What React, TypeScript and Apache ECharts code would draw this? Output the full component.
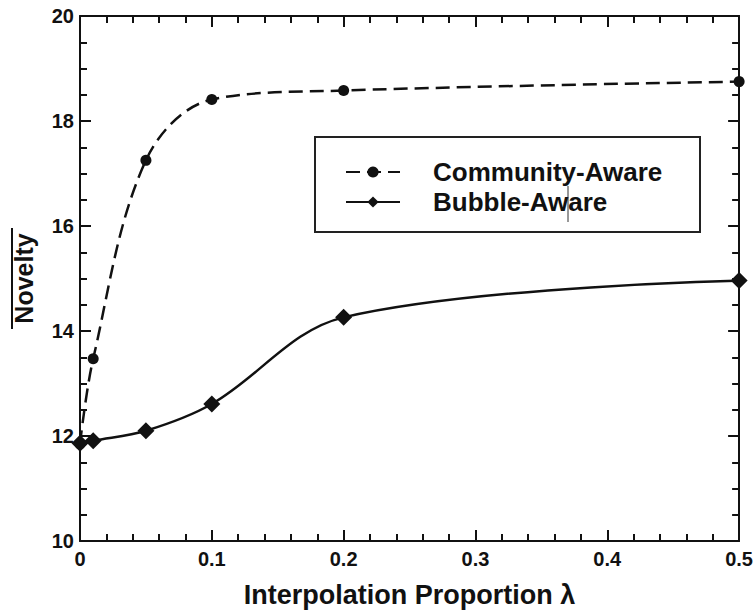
import React, { useEffect, useRef } from "react";
import * as echarts from "echarts";

// Interpolation proportion λ on the x axis
const lambdas = [0, 0.01, 0.05, 0.1, 0.2, 0.5];
// Mean novelty for each strategy
const communityAware = [11.85, 13.47, 17.25, 18.41, 18.58, 18.75];
const bubbleAware = [11.86, 11.91, 12.1, 12.61, 14.26, 14.96];
const seriesNames = ["Community-Aware", "Bubble-Aware"];

const FONT = "Liberation Sans, Arial, sans-serif";

export default function App() {
  const ref = useRef<HTMLDivElement>(null);

  useEffect(() => {
    if (!ref.current) return;
    const chart = echarts.init(ref.current, undefined, { renderer: "svg" });

    const pairs = (ys: number[]) => lambdas.map((x, i) => [x, ys[i]]);
    const axisLine = { show: true, onZero: false, lineStyle: { color: "#111", width: 2 } };
    const tick = { show: true, inside: true, length: 11, lineStyle: { color: "#111", width: 2 } };
    const minor = (n: number) => ({ show: true, splitNumber: n, length: 7, lineStyle: { color: "#111", width: 2 } });
    const label = { color: "#111", fontFamily: FONT, fontWeight: "bold" as const, fontSize: 20 };

    chart.setOption({
      animation: false,
      backgroundColor: "#fff",
      grid: { left: 80, top: 16, right: 11, bottom: 69 },
      xAxis: [
        {
          type: "value", min: 0, max: 0.5, interval: 0.1,
          axisLine, axisTick: tick, minorTick: minor(5), splitLine: { show: false },
          axisLabel: { ...label, margin: 8, formatter: (v: number) => String(+v.toFixed(1)) },
          name: "Interpolation Proportion λ", nameLocation: "middle", nameGap: 40,
          nameTextStyle: { color: "#111", fontFamily: FONT, fontWeight: "bold", fontSize: 27 },
        },
        {
          type: "value", position: "top", min: 0, max: 0.5, interval: 0.1,
          axisLine, axisTick: tick, minorTick: minor(5), splitLine: { show: false },
          axisLabel: { show: false },
        },
      ],
      yAxis: [
        {
          type: "value", min: 10, max: 20, interval: 2,
          axisLine, axisTick: tick, minorTick: minor(4), splitLine: { show: false },
          axisLabel: { ...label, margin: 6 },
          name: "Novelty", nameLocation: "middle", nameGap: 44,
          nameTextStyle: { color: "#111", fontFamily: FONT, fontWeight: "bold", fontSize: 25 },
        },
        {
          type: "value", position: "right", min: 10, max: 20, interval: 2,
          axisLine, axisTick: tick, minorTick: minor(4), splitLine: { show: false },
          axisLabel: { show: false },
        },
      ],
      legend: {
        left: 340, top: 154, orient: "vertical", itemGap: 4,
        itemWidth: 54, itemHeight: 14,
        textStyle: { color: "#111", fontFamily: FONT, fontWeight: "bold", fontSize: 26, padding: [0, 0, 0, 28] },
        data: seriesNames,
      },
      graphic: [
        {
          type: "rect", shape: { x: 315, y: 137, width: 385, height: 95 },
          style: { fill: "none", stroke: "#222", lineWidth: 2 }, silent: true,
        },
        {
          type: "line", shape: { x1: 568, y1: 186, x2: 568, y2: 222 },
          style: { stroke: "#333", lineWidth: 1 }, silent: true,
        },
        {
          type: "line", shape: { x1: 12, y1: 228, x2: 12, y2: 329 },
          style: { stroke: "#111", lineWidth: 2 }, silent: true,
        },
      ],
      series: [
        {
          name: seriesNames[0], type: "line", data: pairs(communityAware), smooth: 0.35,
          symbol: "circle", symbolSize: 11, itemStyle: { color: "#111" },
          lineStyle: { color: "#111", width: 2.5, type: [14, 7] },
        },
        {
          name: seriesNames[1], type: "line", data: pairs(bubbleAware), smooth: 0.35,
          symbol: "diamond", symbolSize: 17, itemStyle: { color: "#111" },
          lineStyle: { color: "#111", width: 2.5 },
        },
      ],
    });

    return () => chart.dispose();
  }, []);

  return <div ref={ref} style={{ width: 756, height: 613, position: "absolute", left: 0, top: 0 }} />;
}
